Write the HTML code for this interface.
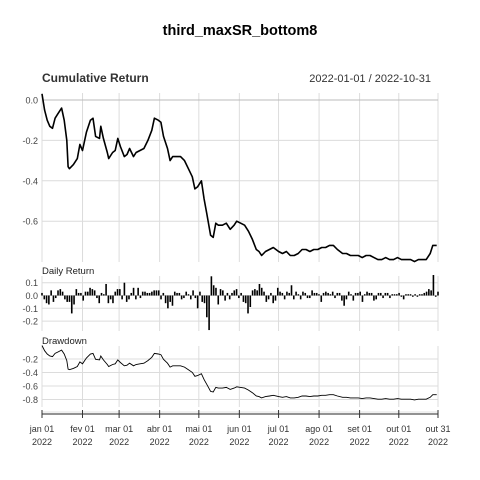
<!DOCTYPE html>
<html><head><meta charset="utf-8"><style>
body{margin:0;background:#fff}
svg{display:block;font-family:"Liberation Sans",sans-serif}
</style></head><body>
<svg id="c" width="480" height="480">
<text x="240" y="35" text-anchor="middle" font-size="14.5" font-weight="bold" fill="#000">third_maxSR_bottom8</text>
<text x="42" y="82" font-size="12" font-weight="bold" fill="#333">Cumulative Return</text>
<text x="431" y="82" text-anchor="end" font-size="11" fill="#333">2022-01-01 / 2022-10-31</text>
<text x="42" y="274" font-size="9.5" fill="#222">Daily Return</text>
<text x="42" y="344" font-size="9.5" fill="#222">Drawdown</text>
<g id="grid"></g><g id="marks"></g><g id="axes"></g>
</svg>
<script>
const monthLabels=["jan 01","fev 01","mar 01","abr 01","mai 01","jun 01","jul 01","ago 01","set 01","out 01","out 31"];
const monthDays=[0,31,59,90,120,151,181,212,243,273,303];
const cumDays=[0,2,4,6,8,10,12,15,17,19,20,21,24,27,29,31,34,37,39,41,44,45,47,50,51,54,56,58,60,63,65,67,70,72,75,78,81,84,86,89,91,93,96,98,100,103,106,109,112,115,117,119,122,124,126,129,131,133,135,138,141,144,147,149,152,155,158,161,164,166,168,171,174,177,181,184,187,190,193,196,199,202,205,208,211,214,217,220,223,226,230,233,236,239,242,245,248,251,254,257,260,263,266,269,272,275,278,282,285,288,291,294,297,299,302];
const cumValues=[0.03,-0.05,-0.1,-0.13,-0.14,-0.09,-0.07,-0.04,-0.1,-0.2,-0.33,-0.34,-0.32,-0.29,-0.22,-0.25,-0.16,-0.1,-0.09,-0.18,-0.19,-0.13,-0.19,-0.26,-0.29,-0.26,-0.25,-0.19,-0.23,-0.28,-0.27,-0.24,-0.28,-0.26,-0.25,-0.24,-0.2,-0.15,-0.09,-0.1,-0.11,-0.18,-0.24,-0.3,-0.28,-0.28,-0.28,-0.3,-0.34,-0.38,-0.44,-0.43,-0.4,-0.49,-0.56,-0.67,-0.68,-0.61,-0.62,-0.62,-0.61,-0.64,-0.62,-0.6,-0.61,-0.62,-0.65,-0.69,-0.74,-0.75,-0.77,-0.75,-0.74,-0.73,-0.75,-0.76,-0.75,-0.77,-0.77,-0.76,-0.74,-0.74,-0.75,-0.74,-0.74,-0.73,-0.73,-0.72,-0.72,-0.74,-0.76,-0.76,-0.77,-0.77,-0.77,-0.78,-0.77,-0.77,-0.78,-0.79,-0.79,-0.78,-0.79,-0.79,-0.78,-0.79,-0.79,-0.79,-0.8,-0.79,-0.79,-0.79,-0.76,-0.72,-0.72];
const dailyReturns=[0.02,-0.03,-0.06,-0.07,0.04,-0.05,-0.02,0.04,0.05,0.03,-0.03,-0.05,-0.05,-0.14,-0.07,0.05,0.02,0.02,-0.04,0.03,0.03,
0.06,0.05,0.04,-0.02,-0.06,0.02,0.01,0.09,-0.06,-0.03,-0.06,0.03,0.05,0.05,-0.03,
0.1,-0.05,-0.03,0.02,0.06,-0.03,0.06,-0.02,0.03,0.03,0.02,0.02,0.03,0.04,0.04,0.04,-0.03,
0.02,-0.06,-0.1,-0.05,-0.08,0.03,0.02,0.02,-0.03,-0.02,0.03,0.01,-0.03,0.04,-0.02,-0.1,0.03,-0.05,-0.06,
-0.17,-0.27,0.15,0.08,0.06,-0.07,0.05,0.04,-0.04,0.02,-0.03,0.02,0.04,0.05,-0.02,0.02,-0.05,-0.06,-0.14,-0.09,
0.04,0.05,0.04,0.09,0.06,0.03,-0.05,-0.03,0.02,-0.06,-0.04,0.06,0.03,0.02,-0.03,0.03,0.02,0.08,-0.03,
0.03,0.01,-0.03,0.03,0.02,-0.02,-0.02,0.04,0.02,0.02,0.01,-0.05,0.02,0.03,0.02,0.01,
0.03,-0.02,0.02,0.02,-0.04,-0.08,-0.03,0.03,0.01,-0.04,0.02,0.02,0.03,-0.05,0.01,0.03,
0.02,0.02,-0.04,-0.03,0.02,0.02,-0.02,0.02,0.02,-0.02,0.01,0.01,0.01,0.02,-0.01,
-0.03,0.01,0.01,0.01,-0.01,0.01,-0.01,0.01,0.01,0.02,0.03,0.05,0.04,0.16,-0.01,0.03];
const cumTicks=[0,-0.2,-0.4,-0.6];
const retTicks=[0.1,0,-0.1,-0.2];
const ddTicks=[-0.2,-0.4,-0.6,-0.8];

const NS="http://www.w3.org/2000/svg";
const X0=42,X1=438;
const xS=d=>X0+d*(X1-X0)/303;
const yCum=v=>100-v*202;
const yRet=v=>295.5-v*128;
function yD(v){return 359-(v+0.2)*67.5;}
const grid=document.getElementById('grid'),marks=document.getElementById('marks'),axes=document.getElementById('axes');
function mk(tag,attrs,parent){const e=document.createElementNS(NS,tag);for(const k in attrs)e.setAttribute(k,attrs[k]);parent.appendChild(e);return e;}
const panels=[[93,262],[276,331],[346,407]];
monthDays.forEach((d,i)=>{panels.forEach(p=>{
 const l=mk('line',{x1:xS(d),x2:xS(d),y1:p[0],y2:p[1],stroke:'#dcdcdc','stroke-width':1},grid);
 
 
});});
function hTicks(ticks,yf,fmt,name){ticks.forEach(t=>{
 const l=mk('line',{x1:X0,x2:X1,y1:yf(t),y2:yf(t),stroke:t===0&&name==='cum'?'#bbb':'#dcdcdc','stroke-width':1},grid);
 
 
 const tx=mk('text',{x:X0-4,y:yf(t)+3.5,'text-anchor':'end','font-size':9,fill:'#444'},axes);
 tx.textContent=fmt(t);
 
 
});}
hTicks(cumTicks,yCum,t=>t.toFixed(1),'cum');
hTicks(retTicks,yRet,t=>t.toFixed(1),'ret');
hTicks(ddTicks,yD,t=>t.toFixed(1),'dd');
let pts=cumDays.map((d,i)=>xS(d).toFixed(1)+','+yCum(cumValues[i]).toFixed(1)).join(' ');
const cl=mk('polyline',{points:pts,fill:'none',stroke:'#000','stroke-width':1.6,'stroke-linejoin':'round'},marks);


const n=dailyReturns.length;
dailyReturns.forEach((v,i)=>{
 const x=xS(i*303/(n-1));
 const y0=yRet(0),y1=yRet(v);
 const r=mk('rect',{x:x-0.8,y:Math.min(y0,y1),width:1.6,height:Math.max(0.5,Math.abs(y1-y0)),fill:'#000'},marks);
 
 
});
let peak=1;const dd=cumValues.map(c=>{const w=1+c;peak=Math.max(peak,w);return w/peak-1;});
pts=cumDays.map((d,i)=>xS(d).toFixed(1)+','+yD(dd[i]).toFixed(1)).join(' ');
const dl=mk('polyline',{points:pts,fill:'none',stroke:'#000','stroke-width':0.9},marks);


const band=mk('rect',{x:X0,y:411,width:X1-X0,height:4,fill:'#f0f0f0'},axes);


const ax=mk('line',{x1:X0,x2:X1,y1:414,y2:414,stroke:'#333','stroke-width':1},axes);


monthDays.forEach((d,i)=>{
 const tk=mk('line',{x1:xS(d),x2:xS(d),y1:410,y2:418,stroke:'#333','stroke-width':1},axes);
 
 
 const t1=mk('text',{x:xS(d),y:432,'text-anchor':'middle','font-size':9,fill:'#333'},axes);
 t1.textContent=monthLabels[i];
 
 
 const t2=mk('text',{x:xS(d),y:445,'text-anchor':'middle','font-size':9,fill:'#333'},axes);
 t2.textContent='2022';
 
 
});
</script>
</body></html>
